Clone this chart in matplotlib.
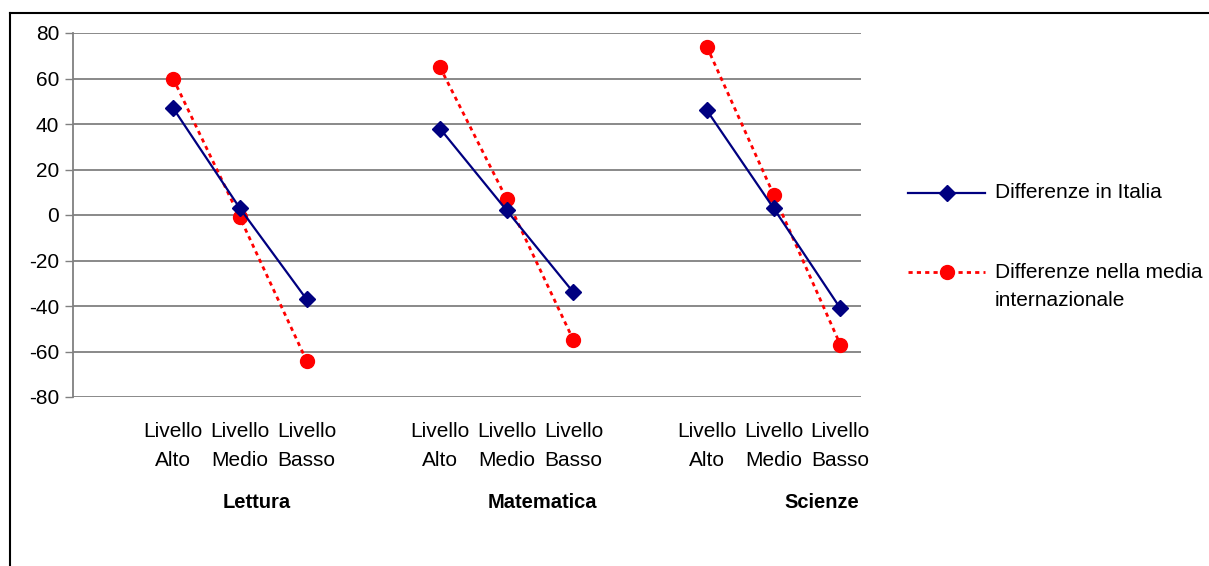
import numpy as np
import matplotlib
matplotlib.use("Agg")
import matplotlib.pyplot as plt
from matplotlib.lines import Line2D

plt.rcParams['font.family'] = ['Liberation Sans', 'DejaVu Sans']

# ---- data ----
categories = ["", "Livello\nAlto", "Livello\nMedio", "Livello\nBasso", "",
              "Livello\nAlto", "Livello\nMedio", "Livello\nBasso", "",
              "Livello\nAlto", "Livello\nMedio", "Livello\nBasso"]
groups = ["Lettura", "Matematica", "Scienze"]
italia = [np.nan, 47, 3, -37, np.nan, 38, 2, -34, np.nan, 46, 3, -41]
internazionale = [np.nan, 60, -1, -64, np.nan, 65, 7, -55, np.nan, 74, 9, -57]
yticks = [-80, -60, -40, -20, 0, 20, 40, 60, 80]
label_italia = "Differenze in Italia"
label_intl = "Differenze nella media\ninternazionale"

FS = 15
W, H = 1209, 566
fig = plt.figure(figsize=(W / 100, H / 100), dpi=100)
ax = fig.add_axes([73 / W, 1 - 397 / H, (861 - 73) / W, (397 - 33) / H])

x = np.arange(len(categories))
navy = "#000080"
red = "#FF0000"

ax.plot(x, internazionale, color=red, lw=2, linestyle=(0, (1.5, 1.5)),
        marker="o", markersize=10, markeredgecolor=red, zorder=3)
ax.plot(x, italia, color=navy, lw=1.6, linestyle="-",
        marker="D", markersize=8, markeredgecolor=navy, zorder=4)

ax.set_ylim(-80, 80)
ax.set_xlim(-0.5, 11.31)
ax.set_yticks(yticks)
ax.set_yticklabels([str(v) for v in yticks], fontsize=FS)
ax.set_xticks(x)
ax.set_xticklabels(categories, fontsize=FS, linespacing=1.7)
ax.tick_params(axis="x", length=0, pad=18)
ax.tick_params(axis="y", length=6, width=1, color="#808080", pad=4)

ax.yaxis.grid(True, color="#808080", lw=1.3)
ax.set_axisbelow(True)
for s in ["top", "right", "bottom"]:
    ax.spines[s].set_visible(False)
ax.spines["left"].set_color("#808080")
ax.spines["left"].set_linewidth(1.3)

# group labels
group_pos = [2.26, 6.54, 10.72]
for gx, g in zip(group_pos, groups):
    ax.text(gx, -0.29, g, transform=ax.get_xaxis_transform(), ha="center",
            va="center", fontsize=FS - 0.5, fontweight="bold")

# legend (manual, figure coords)
def fy(py):
    return 1 - py / H

def fx(px):
    return px / W

fig.add_artist(Line2D([fx(908), fx(985)], [fy(193), fy(193)], color=navy, lw=1.6))
fig.add_artist(Line2D([fx(947)], [fy(193)], color=navy, marker="D", markersize=8))
fig.text(fx(995), fy(193), label_italia, fontsize=FS, va="center", ha="left")
fig.add_artist(Line2D([fx(908), fx(985)], [fy(272), fy(272)], color=red, lw=2,
                      linestyle=(0, (1.5, 1.5))))
fig.add_artist(Line2D([fx(947)], [fy(272)], color=red, marker="o", markersize=10))
fig.text(fx(995), fy(272), label_intl.split("\n")[0], fontsize=FS, va="center", ha="left")
fig.text(fx(995), fy(300), label_intl.split("\n")[1], fontsize=FS, va="center", ha="left")

# outer frame
fig.add_artist(Line2D([fx(10), fx(10)], [0, fy(13)], color="black", lw=1.5))
fig.add_artist(Line2D([fx(10), 1], [fy(13), fy(13)], color="black", lw=1.5))

fig.savefig("out.png", dpi=100)
